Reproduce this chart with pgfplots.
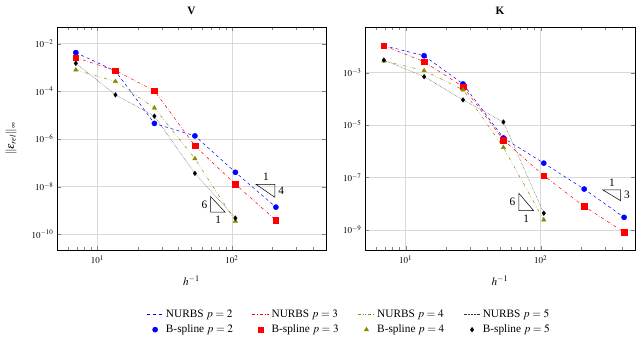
\documentclass[border=0pt]{standalone}
\usepackage{mathptmx}
\usepackage[no-math]{fontspec}
\setmainfont{Liberation Serif}
\usepackage{pgfplots}
\pgfplotsset{compat=1.18}

\begin{document}
\begin{tikzpicture}
\path (-57pt,-95pt) rectangle (579pt,250pt);

\begin{axis}[
  xmode=log, ymode=log,
  scale only axis=true,
  width=269pt, height=223pt,
  xmin=5, xmax=500,
  xmajorgrids, ymajorgrids,
  major grid style={gray!30, line width=0.5pt},
  xlabel={$h^{-1}$},
  font=\fontsize{11.3}{13.5}\selectfont,
  tick label style={font=\fontsize{9}{11}\selectfont},
  xticklabel style={yshift=-2pt},
  xlabel style={yshift=-5pt},
  ylabel shift=8pt,
  title style={font=\fontsize{11.3}{13.5}\selectfont\bfseries, yshift=3pt},
  at={(0pt,0pt)}, anchor=south west,
  title={V},
  ylabel={$\|\epsilon_{rel}\|_\infty$},
  ymin=2.2e-11, ymax=5e-2,
  ytick={1e-10,1e-8,1e-6,1e-4,1e-2},
  legend columns=4,
  legend style={at={(1.086,-0.323)}, anchor=center, draw=none, fill=none,
    font=\fontsize{11.3}{13.5}\selectfont,
    /tikz/every even column/.append style={column sep=17pt},
    row sep=2pt},
  legend cell align=left,
]
\addplot[blue, dashed, line width=0.5pt, no markers] coordinates {(6.9,4.2e-3) (13.6,7.1e-4) (26.5,4.5e-6) (53,1.35e-6) (106,4.0e-8) (212,1.38e-9)};
\addplot[red, dash dot, line width=0.5pt, no markers] coordinates {(6.9,2.6e-3) (13.6,7.4e-4) (26.5,1.05e-4) (53,5.2e-7) (106,1.26e-8) (212,3.9e-10)};
\addplot[olive, dash dot dot, line width=0.5pt, no markers] coordinates {(6.9,7.9e-4) (13.6,2.6e-4) (26.5,2.0e-5) (53,1.5e-7) (106,3.6e-10)};
\addplot[black!80, densely dotted, line width=0.45pt, no markers] coordinates {(6.9,1.5e-3) (13.6,7.1e-5) (26.5,9.1e-6) (53,3.6e-8) (106,4.8e-10)};
\addplot[blue, only marks, mark=*, mark size=2.6pt] coordinates {(6.9,4.2e-3) (13.6,7.1e-4) (26.5,4.5e-6) (53,1.35e-6) (106,4.0e-8) (212,1.38e-9)};
\addplot[red, only marks, mark=square*, mark size=2.8pt] coordinates {(6.9,2.6e-3) (13.6,7.4e-4) (26.5,1.05e-4) (53,5.2e-7) (106,1.26e-8) (212,3.9e-10)};
\addplot[olive, only marks, mark=triangle*, mark size=2.5pt] coordinates {(6.9,7.9e-4) (13.6,2.6e-4) (26.5,2.0e-5) (53,1.5e-7) (106,3.6e-10)};
\addplot[black, only marks, mark=diamond*, mark size=2.3pt] coordinates {(6.9,1.5e-3) (13.6,7.1e-5) (26.5,9.1e-6) (53,3.6e-8) (106,4.8e-10)};
\legend{NURBS $p=2$, NURBS $p=3$, NURBS $p=4$, NURBS $p=5$,
  B-spline $p=2$, B-spline $p=3$, B-spline $p=4$, B-spline $p=5$}
% slope triangles
\draw[black, line width=0.5pt] (axis cs:150.7,1.26e-8) -- (axis cs:208,1.26e-8) -- (axis cs:208,3.6e-9) -- cycle;
\node[anchor=south] at (axis cs:179,1.3e-8) {1};
\node[anchor=west] at (axis cs:208,6.5e-9) {4};
\draw[black, line width=0.5pt] (axis cs:69.5,3.8e-9) -- (axis cs:69.5,8.5e-10) -- (axis cs:89,8.5e-10) -- cycle;
\node[anchor=east] at (axis cs:69.5,1.8e-9) {6};
\node[anchor=north] at (axis cs:79,8.3e-10) {1};
\end{axis}

\begin{axis}[
  xmode=log, ymode=log,
  scale only axis=true,
  width=270pt, height=223pt,
  xmin=5, xmax=500,
  xmajorgrids, ymajorgrids,
  major grid style={gray!30, line width=0.5pt},
  xlabel={$h^{-1}$},
  font=\fontsize{11.3}{13.5}\selectfont,
  tick label style={font=\fontsize{9}{11}\selectfont},
  xticklabel style={yshift=-2pt},
  xlabel style={yshift=-5pt},
  title style={font=\fontsize{11.3}{13.5}\selectfont\bfseries, yshift=3pt},
  at={(308pt,0pt)}, anchor=south west,
  title={K},
  ymin=1.7e-10, ymax=5.5e-2,
  ytick={1e-9,1e-7,1e-5,1e-3},
]
\addplot[blue, dashed, line width=0.5pt, no markers] coordinates {(6.9,1.07e-2) (13.7,4.4e-3) (26.6,3.7e-4) (53,3.2e-6) (105.5,3.5e-7) (210,3.6e-8) (415,3.0e-9)};
\addplot[red, dash dot, line width=0.5pt, no markers] coordinates {(6.9,1.07e-2) (13.7,2.6e-3) (26.6,2.9e-4) (53,2.7e-6) (105.5,1.17e-7) (210,7.8e-9) (415,8.1e-10)};
\addplot[olive, dash dot dot, line width=0.5pt, no markers] coordinates {(6.9,2.8e-3) (13.7,1.19e-3) (26.6,2.2e-4) (53,1.4e-6) (105.5,2.4e-9)};
\addplot[black!80, densely dotted, line width=0.45pt, no markers] coordinates {(6.9,3.0e-3) (13.7,7.0e-4) (26.6,9.1e-5) (53,1.3e-5) (105.5,4.3e-9)};
\addplot[blue, only marks, mark=*, mark size=2.6pt] coordinates {(6.9,1.07e-2) (13.7,4.4e-3) (26.6,3.7e-4) (53,3.2e-6) (105.5,3.5e-7) (210,3.6e-8) (415,3.0e-9)};
\addplot[red, only marks, mark=square*, mark size=2.8pt] coordinates {(6.9,1.07e-2) (13.7,2.6e-3) (26.6,2.9e-4) (53,2.7e-6) (105.5,1.17e-7) (210,7.8e-9) (415,8.1e-10)};
\addplot[olive, only marks, mark=triangle*, mark size=2.5pt] coordinates {(6.9,2.8e-3) (13.7,1.19e-3) (26.6,2.2e-4) (53,1.4e-6) (105.5,2.4e-9)};
\addplot[black, only marks, mark=diamond*, mark size=2.3pt] coordinates {(6.9,3.0e-3) (13.7,7.0e-4) (26.6,9.1e-5) (53,1.3e-5) (105.5,4.3e-9)};
\draw[black, line width=0.5pt] (axis cs:289,3.33e-8) -- (axis cs:391,3.33e-8) -- (axis cs:391,1.3e-8) -- cycle;
\node[anchor=south] at (axis cs:338,3.4e-8) {1};
\node[anchor=west] at (axis cs:391,2.1e-8) {3};
\draw[black, line width=0.5pt] (axis cs:68.9,2.5e-8) -- (axis cs:68.9,5.4e-9) -- (axis cs:88.7,5.4e-9) -- cycle;
\node[anchor=east] at (axis cs:68.9,1.15e-8) {6};
\node[anchor=north] at (axis cs:78,5.2e-9) {1};
\end{axis}
\end{tikzpicture}
\end{document}
